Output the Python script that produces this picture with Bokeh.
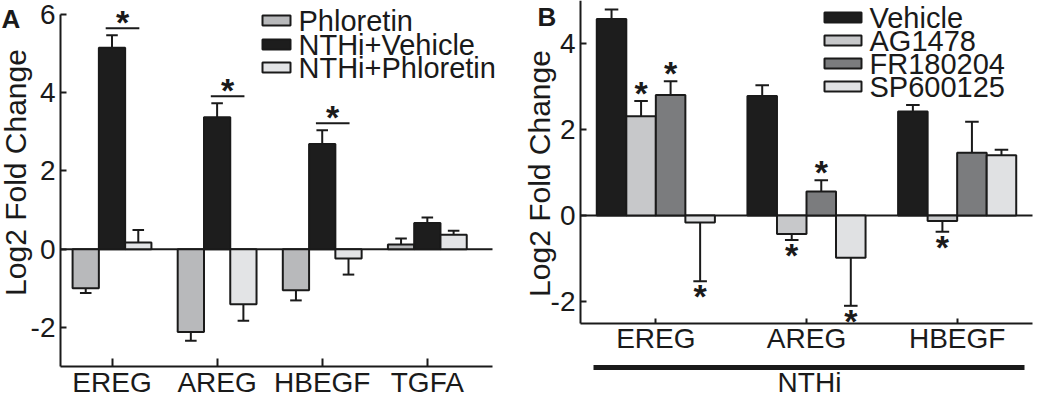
import math
from bokeh.plotting import figure
from bokeh.layouts import row
from bokeh.models import ColumnDataSource, FixedTicker, Label, Range1d
from bokeh.core.properties import value
from bokeh.embed import file_html
from bokeh.resources import INLINE

# ---------------- Panel A data ----------------
genes_a = ["EREG", "AREG", "HBEGF", "TGFA"]
series_a = ["Phloretin", "NTHi+Vehicle", "NTHi+Phloretin"]
phloretin = [-1.00, -2.12, -1.05, 0.12]
phloretin_err = [0.12, 0.22, 0.26, 0.15]
nthi_vehicle = [5.15, 3.37, 2.69, 0.67]
nthi_vehicle_err = [0.32, 0.36, 0.35, 0.14]
nthi_phloretin = [0.17, -1.41, -0.24, 0.37]
nthi_phloretin_err = [0.32, 0.42, 0.41, 0.10]
sig_a = [True, True, True, False]          # NTHi+Vehicle vs NTHi+Phloretin
yticks_a = [-2, 0, 2, 4, 6]
colors_a = ["#b8b9bb", "#1d1d1d", "#e3e4e6"]

# ---------------- Panel B data ----------------
genes_b = ["EREG", "AREG", "HBEGF"]
series_b = ["Vehicle", "AG1478", "FR180204", "SP600125"]
vehicle = [4.57, 2.78, 2.42]
vehicle_err = [0.22, 0.25, 0.15]
ag1478 = [2.31, -0.43, -0.13]
ag1478_err = [0.35, 0.14, 0.25]
fr180204 = [2.80, 0.56, 1.46]
fr180204_err = [0.32, 0.26, 0.72]
sp600125 = [-0.16, -0.98, 1.40]
sp600125_err = [1.37, 1.12, 0.13]
sig_vehicle = [False, False, False]
sig_ag1478 = [True, True, True]
sig_fr180204 = [True, True, False]
sig_sp600125 = [True, True, False]
yticks_b = [-2, 0, 2, 4]
colors_b = ["#1d1d1d", "#c7c8ca", "#7b7c7e", "#e0e1e3"]
group_label_b = "NTHi"
y_title = "Log2 Fold Change"

FONT = "Liberation Sans"
INK = "#1a1a1a"
W, H = 517, 399


class Geo:
    """Maps page pixels to data units for a figure whose frame fills its canvas."""

    def __init__(self, canvas_left, xa, pxa, xb, pxb, ya, pya, yb, pyb):
        self.cl, self.ct = canvas_left, 8
        self.sx = (pxb - pxa) / (xb - xa)
        self.sy = (pyb - pya) / (ya - yb)
        self.x0 = xa - (pxa - self.cl) / self.sx
        self.y1 = ya + (pya - self.ct) / self.sy
        self.xr = (self.x0, self.x0 + W / self.sx)
        self.yr = (self.y1 - H / self.sy, self.y1)

    def x(self, px):
        return self.x0 + (px - self.cl) / self.sx

    def y(self, py):
        return self.y1 - (py - self.ct) / self.sy

    def dy(self, n):
        return n / self.sy


def make_fig(g, xlim, ylim, centers, labels, yticks, xtick_in, xstandoff):
    p = figure(width=W, height=H, output_backend="svg", toolbar_location=None, title=None,
               x_range=Range1d(*g.xr), y_range=Range1d(*g.yr),
               min_border_left=0, min_border_right=0, min_border_top=0, min_border_bottom=0)
    p.outline_line_color = None
    p.xgrid.visible = False
    p.ygrid.visible = False
    p.background_fill_color = "white"
    p.border_fill_color = "white"
    xa, ya = p.xaxis[0], p.yaxis[0]
    for ax in (xa, ya):
        ax.axis_line_width = 2
        ax.axis_line_color = INK
        ax.major_tick_line_width = 2
        ax.major_tick_line_color = INK
        ax.minor_tick_line_color = None
        ax.major_tick_out = 0
        ax.major_label_text_font = FONT
        ax.major_label_text_font_size = "28px"
        ax.major_label_text_color = INK
    xa.fixed_location = ylim[0]
    xa.bounds = xlim
    xa.ticker = FixedTicker(ticks=centers)
    xa.major_label_overrides = {c: t for c, t in zip(centers, labels)}
    xa.major_tick_in = xtick_in
    xa.major_label_standoff = xstandoff
    ya.fixed_location = xlim[0]
    ya.bounds = ylim
    ya.ticker = FixedTicker(ticks=yticks)
    ya.major_label_overrides = {t: str(t) for t in yticks}
    ya.major_tick_in = 6
    ya.major_label_standoff = 5
    # zero line
    p.segment(x0=[xlim[0]], y0=[0], x1=[xlim[1]], y1=[0], line_color=INK, line_width=2)
    return p


def draw_series(p, centers, offset, width, vals, errs, color, cap_half):
    x = [c + offset for c in centers]
    tip = [v + (e if v >= 0 else -e) for v, e in zip(vals, errs)]
    src = ColumnDataSource(dict(
        x=x, top=vals, tip=tip,
        xl=[xi - cap_half for xi in x], xr=[xi + cap_half for xi in x]))
    p.segment(x0="x", y0="top", x1="x", y1="tip", source=src, line_color=INK, line_width=2)
    p.segment(x0="xl", y0="tip", x1="xr", y1="tip", source=src, line_color=INK, line_width=2)
    p.vbar(x="x", top="top", bottom=0, width=width, source=src,
           fill_color=color, line_color=INK, line_width=2)
    return x, tip


def draw_stars(p, xs, ys, offsets):
    if not xs:
        return
    src = ColumnDataSource(dict(x=xs, y=ys, t=["*"] * len(xs), dy=offsets))
    p.text(x="x", y="y", text="t", y_offset="dy", source=src,
           text_font=value(FONT), text_font_size="34px", text_font_style="bold",
           text_color=INK, text_align="center", text_baseline="alphabetic")


def put_text(p, g, text, px, py, size="29px", bold=False, align="left", angle=0.0):
    p.add_layout(Label(x=g.x(px), y=g.y(py), text=text, text_font=FONT, text_font_size=size,
                       text_font_style="bold" if bold else "normal", text_color=INK,
                       text_baseline="middle", text_align=align, angle=angle))


def draw_legend(p, g, names, colors, sw_left, sw_w, text_left, rows_y):
    for name, col, ry in zip(names, colors, rows_y):
        p.rect(x=[g.x(sw_left + sw_w / 2)], y=[g.y(ry)], width=sw_w, height=10,
               width_units="screen", height_units="screen",
               fill_color=col, line_color=INK, line_width=2)
        put_text(p, g, name, text_left, ry)


# ================= Panel A =================
XLIM_A = (0.51, 4.62)
YLIM_A = (-3.0, 6.0)
gA = Geo(8, XLIM_A[0], 68, XLIM_A[1], 500, YLIM_A[1], 22, YLIM_A[0], 374)
centers_a = [i + 1 for i in range(len(genes_a))]
pA = make_fig(gA, XLIM_A, YLIM_A, centers_a, genes_a, yticks_a, 8, 0)

bw_a = 0.25
xs_a, tips_a = [], []
for k, (vals, errs) in enumerate([(phloretin, phloretin_err),
                                  (nthi_vehicle, nthi_vehicle_err),
                                  (nthi_phloretin, nthi_phloretin_err)]):
    x, tip = draw_series(pA, centers_a, (k - 1) * bw_a, bw_a, vals, errs, colors_a[k], 0.055)
    xs_a.append(x)
    tips_a.append(tip)

bx0, bx1, by, sx, sy = [], [], [], [], []
for i, s in enumerate(sig_a):
    if s:
        x0 = xs_a[1][i] - 0.06
        x1 = xs_a[2][i] + 0.01
        yl = tips_a[1][i] + gA.dy(7)
        bx0.append(x0); bx1.append(x1); by.append(yl)
        sx.append((x0 + x1) / 2); sy.append(yl)
pA.segment(x0=bx0, y0=by, x1=bx1, y1=by, line_color=INK, line_width=2)
draw_stars(pA, sx, sy, [-6] * len(sx))

draw_legend(pA, gA, series_a, colors_a, 270, 28, 306, [28, 52, 75])
put_text(pA, gA, y_title, 23, 180, size="30px", align="center", angle=math.pi / 2)
put_text(pA, gA, "A", 9, 26, size="26px", bold=True)

# ================= Panel B =================
XLIM_B = (0.5, 3.5)
YLIM_B = (-2.5, 5.0)
gB = Geo(525, XLIM_B[0], 588, XLIM_B[1], 1040, YLIM_B[1], 8, YLIM_B[0], 330.5)
centers_b = [i + 1 for i in range(len(genes_b))]
pB = make_fig(gB, XLIM_B, YLIM_B, centers_b, genes_b, yticks_b, 5, 0)

bw_b = 0.196
star_x, star_y, star_dy = [], [], []
for k, (vals, errs, sig) in enumerate([(vehicle, vehicle_err, sig_vehicle),
                                       (ag1478, ag1478_err, sig_ag1478),
                                       (fr180204, fr180204_err, sig_fr180204),
                                       (sp600125, sp600125_err, sig_sp600125)]):
    x, tip = draw_series(pB, centers_b, (k - 1.5) * bw_b, bw_b, vals, errs, colors_b[k], 0.045)
    for i, s in enumerate(sig):
        if s:
            star_x.append(x[i])
            star_y.append(tip[i])
            star_dy.append(-8 if vals[i] >= 0 else 15)
draw_stars(pB, star_x, star_y, star_dy)

draw_legend(pB, gB, series_b, colors_b, 832, 37, 877, [25, 48, 71, 94])
put_text(pB, gB, y_title, 547, 181, size="30px", align="center", angle=math.pi / 2)
put_text(pB, gB, "B", 545, 24, size="26px", bold=True)

# group bar under the categories and its label
pB.segment(x0=[gB.x(601)], y0=[gB.y(375)], x1=[gB.x(1032)], y1=[gB.y(375)],
           line_color=INK, line_width=5)
put_text(pB, gB, group_label_b, 817, 390, size="28px", align="center")

layout = row(pA, pB)
open("out.html", "w").write(file_html(layout, INLINE))
